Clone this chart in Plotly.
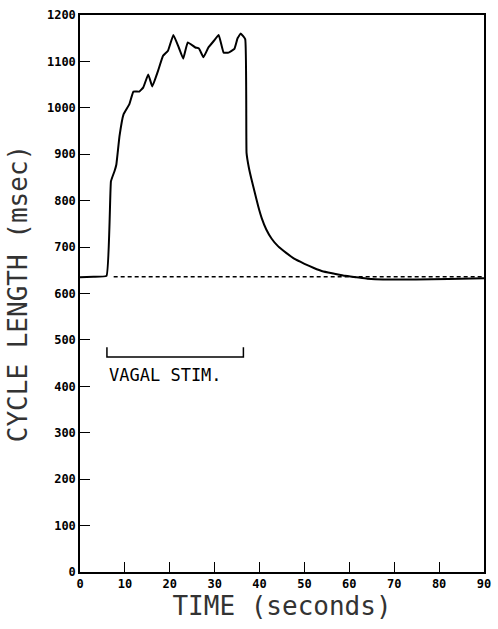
import plotly.graph_objects as go

# Main trace: cycle length (msec) vs time (s)
time_s = [0, 3.0, 5.9, 6.9, 7.7, 8.1, 8.8, 9.7, 11.0, 11.9, 13.2, 14.1, 15.2, 16.1,
          17.4, 18.5, 19.6, 20.8, 22.0, 23.0, 24.0, 25.7, 26.5, 27.5, 28.6, 29.8,
          30.9, 32.0, 33.1, 34.4, 35.1, 35.8, 36.8, 37.1, 37.6, 38.2, 39.0, 39.7,
          40.5, 41.5, 42.7, 44.1, 46.0, 47.7, 50.0, 52.1, 54.0, 56.5, 59.0, 61.6,
          64.0, 67.5, 74.8, 82.0, 90.0]
cycle_ms = [635, 636, 638, 842, 864, 878, 939, 986, 1008, 1035, 1035, 1044, 1072, 1046,
            1080, 1112, 1123, 1157, 1130, 1106, 1141, 1130, 1128, 1109, 1130, 1144,
            1157, 1119, 1119, 1127, 1150, 1160, 1148, 903, 872, 846, 815, 788,
            762, 738, 718, 702, 687, 675, 664, 655, 648, 643, 638, 635,
            632, 630, 630, 631, 633]

# Dashed control baseline
base_t = [7.5, 90]
base_ms = [636, 636]

# Vagal stimulation bracket
stim_t = [6.0, 6.0, 36.4, 36.4]
stim_ms = [484, 463, 463, 484]
stim_label = "VAGAL STIM."

x_ticks = [0, 10, 20, 30, 40, 50, 60, 70, 80, 90]
y_ticks = [0, 100, 200, 300, 400, 500, 600, 700, 800, 900, 1000, 1100, 1200]

fig = go.Figure()
fig.add_trace(go.Scatter(x=base_t, y=base_ms, mode="lines",
                         line=dict(color="black", width=1.5, dash="4px,3px"),
                         hoverinfo="skip"))
fig.add_trace(go.Scatter(x=time_s, y=cycle_ms, mode="lines",
                         line=dict(color="black", width=2, shape="spline", smoothing=0.3)))
fig.add_trace(go.Scatter(x=stim_t, y=stim_ms, mode="lines",
                         line=dict(color="black", width=1.5)))
fig.add_annotation(x=stim_t[0], y=425, text=stim_label, showarrow=False,
                   xanchor="left", yanchor="middle",
                   font=dict(family="DejaVu Sans Mono", size=17, color="black"))

axis_common = dict(showgrid=False, zeroline=False, showline=True, linecolor="black",
                   linewidth=1.5, mirror=True, ticks="inside", ticklen=10,
                   tickcolor="black", tickwidth=1.2,
                   tickfont=dict(family="DejaVu Sans Mono", size=12, color="black",
                                 weight="bold"))

fig.update_layout(
    width=498, height=629,
    margin=dict(l=80, r=7, t=15, b=57),
    paper_bgcolor="white", plot_bgcolor="white",
    showlegend=False,
    xaxis=dict(range=[0, 90], tickvals=x_ticks,
               title=dict(text="TIME (seconds)", standoff=6,
                          font=dict(family="DejaVu Sans Mono", size=26, color="#333",
                                    weight="normal")),
               **axis_common),
    yaxis=dict(range=[0, 1200], tickvals=y_ticks,
               title=dict(text="CYCLE LENGTH (msec)", standoff=12,
                          font=dict(family="DejaVu Sans Mono", size=26, color="#333",
                                    weight="normal")),
               **axis_common),
)

fig.write_html("out.html")
